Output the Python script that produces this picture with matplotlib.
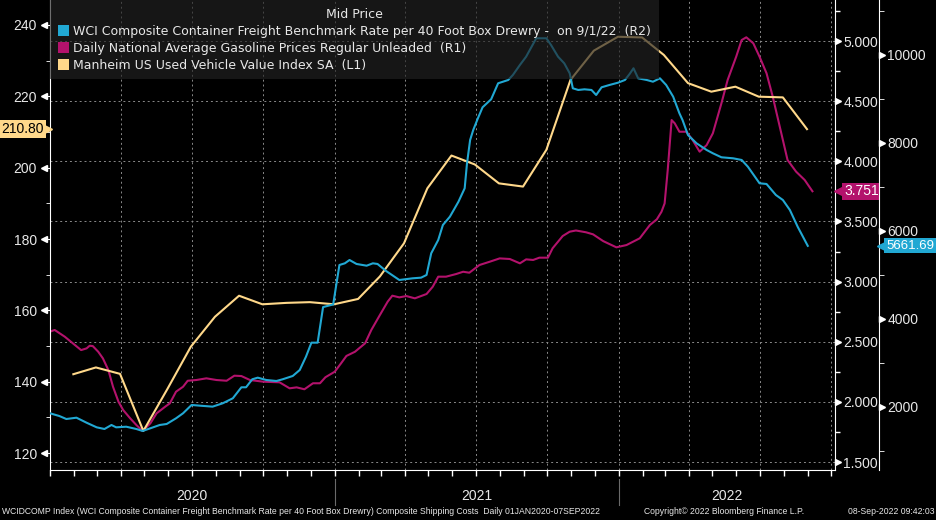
import matplotlib
matplotlib.use("Agg")
import matplotlib.pyplot as plt
import matplotlib.dates as mdates
import pandas as pd
from matplotlib.patches import Patch
from matplotlib.ticker import MultipleLocator, FuncFormatter, NullFormatter
from matplotlib.transforms import blended_transform_factory as blend

# ---- data ----
# Manheim US Used Vehicle Value Index SA (L1), monthly, Jan 2020 .. Aug 2022
manheim_dates = pd.date_range("2020-01-31", periods=32, freq="ME")
manheim_vals = [142.1, 144.0, 142.2, 126.2, 138.0, 149.8, 158.2, 164.1, 161.7, 162.1,
                162.3, 161.7, 163.2, 169.5, 178.8, 194.2, 203.4, 200.9, 195.6, 194.7,
                205.0, 224.6, 232.8, 236.7, 236.5, 231.6, 223.7, 221.3, 222.7, 219.9,
                219.7, 210.8]

# Daily National Average Gasoline Prices Regular Unleaded (R1)
gas_dates = [
    "2020-01-01", "2020-01-07", "2020-01-20", "2020-02-02", "2020-02-10", "2020-02-17",
    "2020-02-21", "2020-02-25", "2020-03-03", "2020-03-09", "2020-03-16", "2020-03-22",
    "2020-03-29", "2020-04-04", "2020-04-13", "2020-04-21", "2020-04-29", "2020-05-09",
    "2020-05-17", "2020-05-28", "2020-06-03", "2020-06-11", "2020-06-20", "2020-06-26",
    "2020-07-07", "2020-07-20", "2020-08-02", "2020-08-15", "2020-08-25", "2020-09-03",
    "2020-09-14", "2020-10-01", "2020-10-22", "2020-11-04", "2020-11-13", "2020-11-23",
    "2020-12-04", "2020-12-13", "2020-12-20", "2021-01-01", "2021-01-09", "2021-01-16",
    "2021-01-27", "2021-02-09", "2021-02-17", "2021-02-28", "2021-03-10", "2021-03-16",
    "2021-03-25", "2021-04-03", "2021-04-14", "2021-04-29", "2021-05-07", "2021-05-14",
    "2021-05-24", "2021-06-06", "2021-06-15", "2021-06-23", "2021-07-06", "2021-07-19",
    "2021-08-01", "2021-08-14", "2021-08-27", "2021-09-04", "2021-09-13", "2021-09-21",
    "2021-10-02", "2021-10-08", "2021-10-21", "2021-10-30", "2021-11-07", "2021-11-20",
    "2021-11-29", "2021-12-12", "2021-12-29", "2022-01-11", "2022-01-28", "2022-02-10",
    "2022-02-19", "2022-02-25", "2022-03-01", "2022-03-05", "2022-03-10", "2022-03-14",
    "2022-03-20", "2022-03-29", "2022-04-06", "2022-04-15", "2022-04-24", "2022-05-02",
    "2022-05-13", "2022-05-21", "2022-06-01", "2022-06-08", "2022-06-14", "2022-06-23",
    "2022-07-01", "2022-07-10", "2022-07-18", "2022-07-27", "2022-08-06", "2022-08-17",
    "2022-08-28", "2022-09-07",
]
gas_vals = [
    2.584, 2.598, 2.542, 2.473, 2.431, 2.445, 2.467, 2.464, 2.417, 2.362, 2.265, 2.126,
    2.002, 1.933, 1.864, 1.808, 1.758, 1.822, 1.905, 1.960, 1.988, 2.085, 2.126, 2.176,
    2.182, 2.196, 2.182, 2.176, 2.218, 2.215, 2.182, 2.168, 2.163, 2.113, 2.121, 2.105,
    2.155, 2.155, 2.205, 2.251, 2.320, 2.382, 2.417, 2.487, 2.598, 2.722, 2.833, 2.883,
    2.869, 2.880, 2.861, 2.897, 2.958, 3.041, 3.041, 3.063, 3.082, 3.074, 3.138, 3.165,
    3.193, 3.188, 3.152, 3.185, 3.180, 3.199, 3.199, 3.277, 3.379, 3.415, 3.425, 3.410,
    3.393, 3.337, 3.285, 3.304, 3.360, 3.470, 3.518, 3.581, 3.650, 3.928, 4.343, 4.316,
    4.246, 4.246, 4.177, 4.080, 4.135, 4.233, 4.482, 4.676, 4.870, 5.008, 5.031, 4.981,
    4.870, 4.732, 4.537, 4.288, 4.011, 3.914, 3.845, 3.751,
]

# WCI Composite Container Freight Benchmark Rate per 40 Foot Box (R2), weekly
wci_dates = [
    "2020-01-01", "2020-01-13", "2020-01-22", "2020-02-04", "2020-02-17", "2020-03-01",
    "2020-03-11", "2020-03-20", "2020-03-26", "2020-04-08", "2020-04-21", "2020-04-29",
    "2020-05-09", "2020-05-21", "2020-05-30", "2020-06-11", "2020-06-20", "2020-07-01",
    "2020-07-11", "2020-07-28", "2020-08-10", "2020-08-23", "2020-09-03", "2020-09-09",
    "2020-09-17", "2020-09-24", "2020-10-05", "2020-10-18", "2020-10-26", "2020-11-08",
    "2020-11-17", "2020-11-25", "2020-12-02", "2020-12-10", "2020-12-17", "2020-12-30",
    "2021-01-07", "2021-01-14", "2021-01-20", "2021-01-29", "2021-02-11", "2021-02-19",
    "2021-02-25", "2021-03-08", "2021-03-25", "2021-04-11", "2021-04-22", "2021-04-29",
    "2021-05-05", "2021-05-14", "2021-05-20", "2021-05-29", "2021-06-09", "2021-06-17",
    "2021-06-20", "2021-06-24", "2021-06-28", "2021-07-04", "2021-07-10", "2021-07-21",
    "2021-07-30", "2021-08-12", "2021-08-18", "2021-08-27", "2021-09-04", "2021-09-17",
    "2021-09-30", "2021-10-06", "2021-10-15", "2021-10-23", "2021-10-30", "2021-11-03",
    "2021-11-10", "2021-11-18", "2021-11-27", "2021-12-03", "2021-12-10", "2021-12-20",
    "2021-12-31", "2022-01-09", "2022-01-15", "2022-01-20", "2022-01-26", "2022-02-06",
    "2022-02-14", "2022-02-23", "2022-03-03", "2022-03-12", "2022-03-20", "2022-03-24",
    "2022-03-31", "2022-04-11", "2022-04-24", "2022-05-02", "2022-05-13", "2022-05-28",
    "2022-06-08", "2022-06-16", "2022-07-01", "2022-07-10", "2022-07-22", "2022-07-31",
    "2022-08-09", "2022-08-19", "2022-09-01",
]
wci_vals = [
    1856, 1794, 1726, 1756, 1642, 1537, 1499, 1590, 1537, 1551, 1499, 1454,
    1515, 1590, 1613, 1742, 1856, 2045, 2030, 2007, 2083, 2197, 2447, 2447,
    2629, 2666, 2613, 2590, 2629, 2704, 2840, 3142, 3461, 3461, 4270, 4330,
    5227, 5265, 5340, 5250, 5211, 5265, 5250, 5090, 4886, 4924, 4939, 5000,
    5493, 5795, 6136, 6325, 6665, 6970, 7538, 8068, 8295, 8561, 8811, 8993,
    9357, 9432, 9546, 9773, 9962, 10380, 10380, 10227, 9962, 9811, 9584, 9243,
    9205, 9220, 9205, 9091, 9266, 9318, 9370, 9432, 9568, 9698, 9470, 9432,
    9393, 9470, 9318, 9052, 8675, 8523, 8182, 7993, 7841, 7766, 7675, 7652,
    7614, 7461, 7084, 7068, 6818, 6704, 6477, 6097, 5661.69,
]

legend_title = "Mid Price"
labels = [
    "WCI Composite Container Freight Benchmark Rate per 40 Foot Box Drewry -  on 9/1/22  (R2)",
    "Daily National Average Gasoline Prices Regular Unleaded  (R1)",
    "Manheim US Used Vehicle Value Index SA  (L1)",
]
years = ["2020", "2021", "2022"]
year_mid = ["2020-07-01", "2021-07-02", "2022-05-20"]
footer_left = ("WCIDCOMP Index (WCI Composite Container Freight Benchmark Rate per 40 Foot Box Drewry) "
               "Composite Shipping Costs  Daily 01JAN2020-07SEP2022")
footer_mid = "Copyright\u00a9 2022 Bloomberg Finance L.P."
footer_right = "08-Sep-2022 09:42:03"

CYAN = "#21a8d3"
MAG = "#b3126c"
YEL = "#ffd88a"
TXT = "#e8e8e8"
GRID = "#8a8a8a"
TICKFONT = ["Liberation Sans", "DejaVu Sans"]

plt.rcParams["font.family"] = ["DejaVu Sans"]

W, H = 936, 520
fig = plt.figure(figsize=(W / 100, H / 100), dpi=100, facecolor="black")
pw = 785.0
ax = fig.add_axes([50 / W, 50 / H, pw / W, 470 / H])
ax.set_facecolor("black")

# host axis: gasoline (R1), carries the grid
ax.plot(pd.to_datetime(gas_dates), gas_vals, color=MAG, lw=1.5, zorder=3)
ax.set_ylim(1.434, 5.341)
ax.set_xlim(pd.Timestamp("2020-01-01"), pd.Timestamp("2022-10-06"))
ax.xaxis.set_major_locator(mdates.MonthLocator(bymonth=[1, 4, 7, 10]))
ax.xaxis.set_minor_locator(mdates.MonthLocator())
ax.xaxis.set_major_formatter(NullFormatter())
ax.tick_params(axis="x", which="both", length=4, color="white", width=1)
ax.grid(which="major", color=GRID, ls=(0, (2, 3)), lw=0.7)
for s in ["top", "left"]:
    ax.spines[s].set_visible(False)
for s in ["right", "bottom"]:
    ax.spines[s].set_color("white")

# left axis: Manheim (L1)
axl = ax.twinx()
axl.plot(manheim_dates, manheim_vals, color=YEL, lw=1.5, zorder=3)
axl.set_ylim(115.25, 247.0)
axl.yaxis.tick_left()
axl.yaxis.set_label_position("left")
axl.yaxis.set_major_locator(MultipleLocator(20))
axl.yaxis.set_minor_locator(MultipleLocator(10))
axl.tick_params(axis="y", which="major", length=2.5, color="white", pad=7, labelcolor=TXT, labelsize=10)
axl.tick_params(axis="y", which="minor", length=3, color="white")
for s in ["top", "right", "bottom"]:
    axl.spines[s].set_visible(False)
axl.spines["left"].set_color("white")

# second right axis: WCI (R2)
axr = ax.twinx()
axr.plot(pd.to_datetime(wci_dates), wci_vals, color=CYAN, lw=1.5, zorder=3)
axr.set_ylim(567, 11250)
axr.spines["right"].set_position(("axes", 1 + 44 / pw))
axr.spines["right"].set_color("white")
for s in ["top", "left", "bottom"]:
    axr.spines[s].set_visible(False)
axr.yaxis.set_major_locator(MultipleLocator(2000))
axr.yaxis.set_minor_locator(MultipleLocator(1000))
axr.tick_params(axis="y", which="major", length=0, pad=6, labelcolor=TXT, labelsize=10)
axr.tick_params(axis="y", which="minor", length=3.5, color="white")

# twinx moved the host ticks to the left, put R1 back on the right
ax.yaxis.tick_right()
ax.yaxis.set_major_locator(MultipleLocator(0.5))
ax.yaxis.set_minor_locator(MultipleLocator(0.25))
ax.yaxis.set_major_formatter(FuncFormatter(lambda v, p: f"{v:.3f}"))
ax.tick_params(axis="y", which="major", length=0, pad=6, labelcolor=TXT, labelsize=10)
ax.tick_params(axis="y", which="minor", length=3.5, color="white", width=1)

for a in (ax, axl, axr):
    for lab in a.get_yticklabels():
        lab.set_family(TICKFONT)

# bloomberg style triangle tick marks
def tri(a, xs, vals, marker, color="white", ms=5):
    a.plot([xs] * len(vals), vals, ls="none", marker=marker, ms=ms, color=color, mec=color,
           transform=blend(a.transAxes, a.transData), clip_on=False, zorder=5)

tri(axl, -6 / pw, [120, 140, 160, 180, 200, 220, 240], "<")
tri(ax, 1 + 3 / pw, [1.5, 2.0, 2.5, 3.0, 3.5, 4.0, 4.5, 5.0], ">")
tri(axr, 1 + 47 / pw, [2000, 4000, 6000, 8000, 10000], ">")

# last value tags
def tag(a, x, y, txt, fc, tc, ha, tri_x, marker, fs=10):
    a.text(x, y, txt, transform=blend(a.transAxes, a.transData), ha=ha, va="center",
           color=tc, fontsize=fs, family=TICKFONT, clip_on=False, zorder=6,
           bbox=dict(boxstyle="square,pad=0.12", fc=fc, ec="none"))
    tri(a, tri_x, [y], marker, color=fc, ms=9)

tag(axl, -6 / pw, manheim_vals[-1], f"{manheim_vals[-1]:.2f}", YEL, "black", "right", -4 / pw, ">")
tag(ax, 1 + 9 / pw, gas_vals[-1], f"{gas_vals[-1]:.3f}", MAG, "white", "left", 1 + 5 / pw, "<")
tag(axr, 1 + 51 / pw, wci_vals[-1], f"{wci_vals[-1]:.2f}", CYAN, "white", "left", 1 + 48 / pw, "<", fs=9.5)

# year labels and separators
xt = ax.get_xaxis_transform()
for yr, mid in zip(years, year_mid):
    ax.text(pd.Timestamp(mid), -0.056, yr, transform=xt, ha="center", va="center",
            color=TXT, fontsize=10, family=TICKFONT)
for d in ["2021-01-01", "2022-01-01"]:
    ax.plot([pd.Timestamp(d)] * 2, [-0.02, -0.075], transform=xt, color="#6a6a6a",
            lw=0.8, clip_on=False)

# legend box
handles = [Patch(fc=c, ec="none") for c in (CYAN, MAG, YEL)]
leg = fig.legend(handles, labels, title=legend_title, loc="upper left",
                 bbox_to_anchor=(50 / W, 1.0), frameon=True, fancybox=False,
                 facecolor="#222222", edgecolor="none", framealpha=0.65,
                 fontsize=9, title_fontsize=9, labelcolor=TXT, borderpad=0.6,
                 labelspacing=0.33, handlelength=0.9, handleheight=0.9, handletextpad=0.35,
                 borderaxespad=0)
leg.get_title().set_color(TXT)

# footer: one size for all three pieces, middle piece follows the left one
FOOT_FS = 6.2
t_left = fig.text(2 / W, 8 / H, footer_left, color=TXT, fontsize=FOOT_FS, va="center",
                  ha="left", family=TICKFONT)
t_mid = fig.text(598 / W, 8 / H, footer_mid, color=TXT, fontsize=FOOT_FS, va="center",
                 ha="left", family=TICKFONT)
t_right = fig.text(934 / W, 8 / H, footer_right, color=TXT, fontsize=FOOT_FS, va="center",
                   ha="right", family=TICKFONT)
fig.canvas.draw()
rend = fig.canvas.get_renderer()
left_end = t_left.get_window_extent(rend).x1
mid_w = t_mid.get_window_extent(rend).width
right_start = t_right.get_window_extent(rend).x0
gap = (right_start - left_end - mid_w) / 2
t_mid.set_x((left_end + max(gap, 6)) / W)

fig.savefig("out.png", dpi=100, facecolor="black")
